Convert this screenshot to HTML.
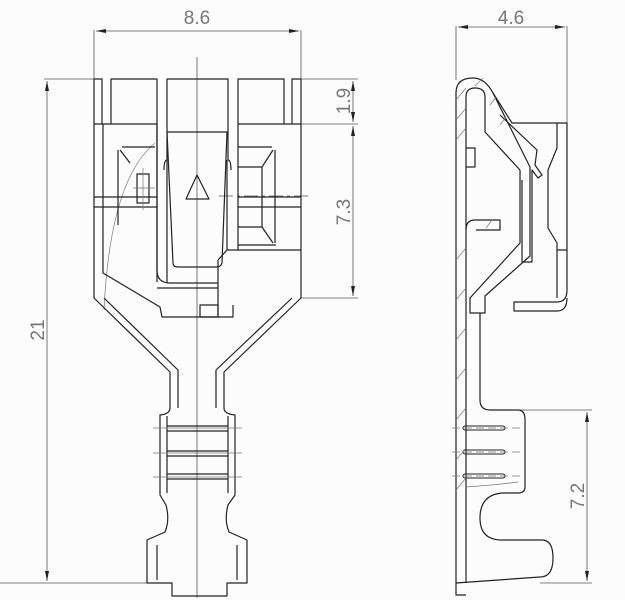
<!DOCTYPE html>
<html><head><style>html,body{margin:0;padding:0;background:#fff}svg{display:block}</style></head>
<body>
<svg width="625" height="600" viewBox="0 0 625 600" xmlns="http://www.w3.org/2000/svg" font-family="Liberation Sans, sans-serif">
<rect width="625" height="600" fill="#fcfcfc"/>
<defs>
<marker id="a" viewBox="0 0 10 4" refX="10" refY="2" markerWidth="10" markerHeight="4" orient="auto-start-reverse" markerUnits="userSpaceOnUse"><path d="M0,0 L10,2 L0,4z" fill="#222"/></marker>
</defs>
<g stroke="#555" stroke-width="0.8" fill="none">
<line x1="94" y1="30" x2="94" y2="80"/><line x1="301" y1="30" x2="301" y2="80"/>
<line x1="96" y1="31" x2="299" y2="31" marker-start="url(#a)" marker-end="url(#a)"/>
<line x1="44" y1="79" x2="94" y2="79"/>
<line x1="47" y1="81" x2="47" y2="581" marker-start="url(#a)" marker-end="url(#a)"/>
<line x1="0" y1="583" x2="148" y2="583"/>
<line x1="301" y1="79" x2="358" y2="79"/><line x1="301" y1="124" x2="358" y2="124"/><line x1="301" y1="298" x2="358" y2="298"/>
<line x1="353" y1="81" x2="353" y2="122" marker-start="url(#a)" marker-end="url(#a)"/>
<line x1="353" y1="126" x2="353" y2="296" marker-start="url(#a)" marker-end="url(#a)"/>
<line x1="197" y1="57" x2="197" y2="598"/>
<line x1="219" y1="196" x2="308" y2="196" stroke-dasharray="14,4,3,4"/>
<line x1="456" y1="26" x2="456" y2="80"/><line x1="567" y1="26" x2="567" y2="123"/>
<line x1="458" y1="27" x2="565" y2="27" marker-start="url(#a)" marker-end="url(#a)"/>
<line x1="518" y1="410" x2="592" y2="410"/><line x1="540" y1="583" x2="592" y2="583"/>
<line x1="587" y1="412" x2="587" y2="581" marker-start="url(#a)" marker-end="url(#a)"/>
<path d="M155,143 Q110,180 104,310" stroke="#888"/>
</g>
<g fill="#777" font-size="19">
<text x="197" y="24" text-anchor="middle">8.6</text>
<text x="511" y="24" text-anchor="middle">4.6</text>
<text transform="translate(44,330) rotate(-90)" text-anchor="middle">21</text>
<text transform="translate(350,101) rotate(-90)" text-anchor="middle">1.9</text>
<text transform="translate(350,212) rotate(-90)" text-anchor="middle">7.3</text>
<text transform="translate(584,496) rotate(-90)" text-anchor="middle">7.2</text>
</g>
<g stroke="#222" stroke-width="1.2" fill="none" stroke-linejoin="round">
<path d="M94,79 L94,298 L170,372 L170,408 M301,79 L301,298 L224,372 L224,408"/>
<path d="M103,124 L103,273 L160,307 L162,317 L233,317 L233,305 M104,298 L178,370 L178,408 M292,298 L216,370 L216,408"/>
<path d="M94,79 H102 V124 M111,124 V79 H157 V124 M167,131 V79 H228 V131 M238,124 V79 H284 V124 M292,124 V79 H301"/>
<path d="M94,124 H157 M238,124 H301"/>
<path d="M157,124 V270 Q157,283 170,283 H218 M167,131 V160 Q164,160 164,170 M228,131 V160 Q231,160 231,170"/>
<path d="M157,124 V282 M167,160 V283 M157,288 H218 M227,160 V250 M238,124 V250"/>
<path d="M167,132 H227 L222,263 Q221,267 216,267 H178 Q173,267 173,263 Z"/>
<path d="M227,250 H301 M218,260 V317 M218,260 L227,250"/>
<path d="M200,305 H218 V317 H200 Z"/>
<path d="M94,197 H157 M94,207 H157 M238,197 H301 M238,207 H301"/>
<path d="M238,147 H272 M238,245 H276 M238,167 H262 V227 H238 M262,167 L273,150 M262,227 L273,243 M275,150 V243"/>
<path d="M122,147 H155 M120,150 L130,163 M118,150 V225"/>
<path d="M137,174 H149 V203 H137 Z"/>
<path d="M197,175 L186,199 H209 Z"/>
<path d="M170,408 Q170,414 160,415 V495 L166,505 Q170,520 165,532 L147,540 V583 H172 V596 H227 V583 H247 V540 L229,532 Q224,520 228,505 L235,495 V415 Q224,414 224,408"/>
<path d="M167,416 V493 M228,416 V493 M157,545 V580 M237,545 V580"/>
<path d="M167,426 H228 M167,431 H228 M167,451 H228 M167,456 H228 M167,474 H228 M167,479 H228"/>
<!-- SIDE VIEW -->
<path d="M456,93 Q456,78 473,78 Q485,78 493,93 L530,167 V256 L485,296 V313 H470 V298 L520,243 V170 L485,132 V97 Q485,88 475,88 Q466,88 466,97 V583"/>
<path d="M480,313 V317"/>
<path d="M456,93 V595 H466 M456,583 L540,577"/>
<path d="M493,93 L512,123 H567 V290 Q567,302 557,302 H514 V311 H557 Q567,311 567,298"/>
<path d="M557,123 V148 L548,170 V228 L557,243 V298 M557,250 H567"/>
<path d="M500,115 L537,150 L535,165 L542,175 L538,178 L532,170 V262 H522 V180"/>
<path d="M480,317 V400 Q480,410 490,410 H518 Q525,410 525,420 V487 Q525,493 518,493 H502 Q480,495 480,518 Q480,540 502,540 H542 Q553,540 553,558 Q553,577 540,577"/>
<path d="M466,230 Q466,220 475,220 H500 V230 H476"/>
<path d="M466,148 H475 V167 H466"/>
<g stroke-width="1"><rect x="463" y="426" width="42" height="4" rx="2"/><rect x="463" y="450" width="42" height="4" rx="2"/><rect x="463" y="474" width="42" height="4" rx="2"/></g>
</g>
<g stroke="#777" stroke-width="0.7" fill="none">
<path d="M456,100 l10,-12 M456,120 l10,-12 M456,140 l10,-12 M456,260 l10,-12 M456,300 l10,-12 M456,340 l10,-12 M456,380 l10,-12 M456,420 l10,-12 M456,460 l10,-12 M456,490 l10,-12"/>
<path d="M475,86 l8,-8 M490,105 l6,-8 M500,125 l6,-8 M486,228 l6,-8"/>
<line x1="452" y1="428" x2="525" y2="428" stroke-dasharray="8,4"/><line x1="452" y1="452" x2="525" y2="452" stroke-dasharray="8,4"/><line x1="452" y1="476" x2="525" y2="476" stroke-dasharray="8,4"/>
<path d="M466,487 Q495,485 518,482"/>
<line x1="153" y1="428" x2="242" y2="428"/><line x1="153" y1="453" x2="242" y2="453"/><line x1="153" y1="477" x2="242" y2="477"/>
<line x1="133" y1="188" x2="155" y2="188"/><line x1="143" y1="168" x2="143" y2="210"/>
</g>
</svg>
</body></html>
